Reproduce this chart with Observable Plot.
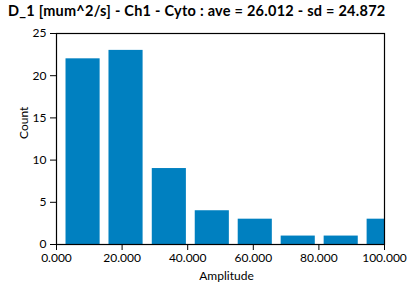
<!DOCTYPE html>
<html><head><meta charset="utf-8">
<script src="https://cdn.jsdelivr.net/npm/d3@7"></script>
<script src="https://cdn.jsdelivr.net/npm/@observablehq/plot@0.6"></script>
<style>
body{margin:0;background:#fff;width:408px;height:287px;overflow:hidden;}
#title{font-family:Lato,sans-serif;font-weight:bold;font-size:14.5px;letter-spacing:0.25px;height:26px;line-height:22px;padding-left:8px;white-space:nowrap;color:#000;}
</style></head><body>
<div id="title"></div><div id="chart"></div>
<script>
const titleText = "D_1 [mum^2/s] - Ch1 - Cyto : ave = 26.012 - sd = 24.872";
const xLabel = "Amplitude";
const yLabel = "Count";
const binCenters = [8.1, 21.2, 34.4, 47.5, 60.6, 73.7, 86.8, 99.9];
const counts = [22, 23, 9, 4, 3, 1, 1, 3];
const xTicks = [0, 20, 40, 60, 80, 100];
const yTicks = [0, 5, 10, 15, 20, 25];
const barWidth = 10.4;

document.getElementById("title").textContent = titleText;
const data = binCenters.map((c, i) => ({x1: c - barWidth / 2, x2: c + barWidth / 2, count: counts[i]}));

const plot = Plot.plot({
  width: 408, height: 261,
  marginTop: 7, marginLeft: 56, marginRight: 24, marginBottom: 43,
  style: {fontFamily: "Lato, sans-serif", fontSize: "12px", color: "#000", background: "#fff"},
  x: {domain: [0, 100]},
  y: {domain: [0, 25]},
  marks: [
    Plot.rect(data, {x1: "x1", x2: "x2", y1: 0, y2: "count", fill: "#0080c0", clip: true}),
    Plot.axisX({ticks: xTicks, tickFormat: d => d.toFixed(3), tickSize: 6, tickPadding: 3, label: null, stroke: "#000"}),
    Plot.axisY({ticks: yTicks, tickSize: 6, tickPadding: 4, label: null, stroke: "#000"}),
    Plot.frame({stroke: "#000", strokeWidth: 1.2}),
    Plot.text([xLabel], {frameAnchor: "bottom", lineAnchor: "middle", dy: 32, dx: 6, fontSize: 12}),
    Plot.text([yLabel], {frameAnchor: "left", dx: -32, rotate: -90, fontSize: 12})
  ]
});
document.getElementById("chart").appendChild(plot);
</script>
</body></html>
